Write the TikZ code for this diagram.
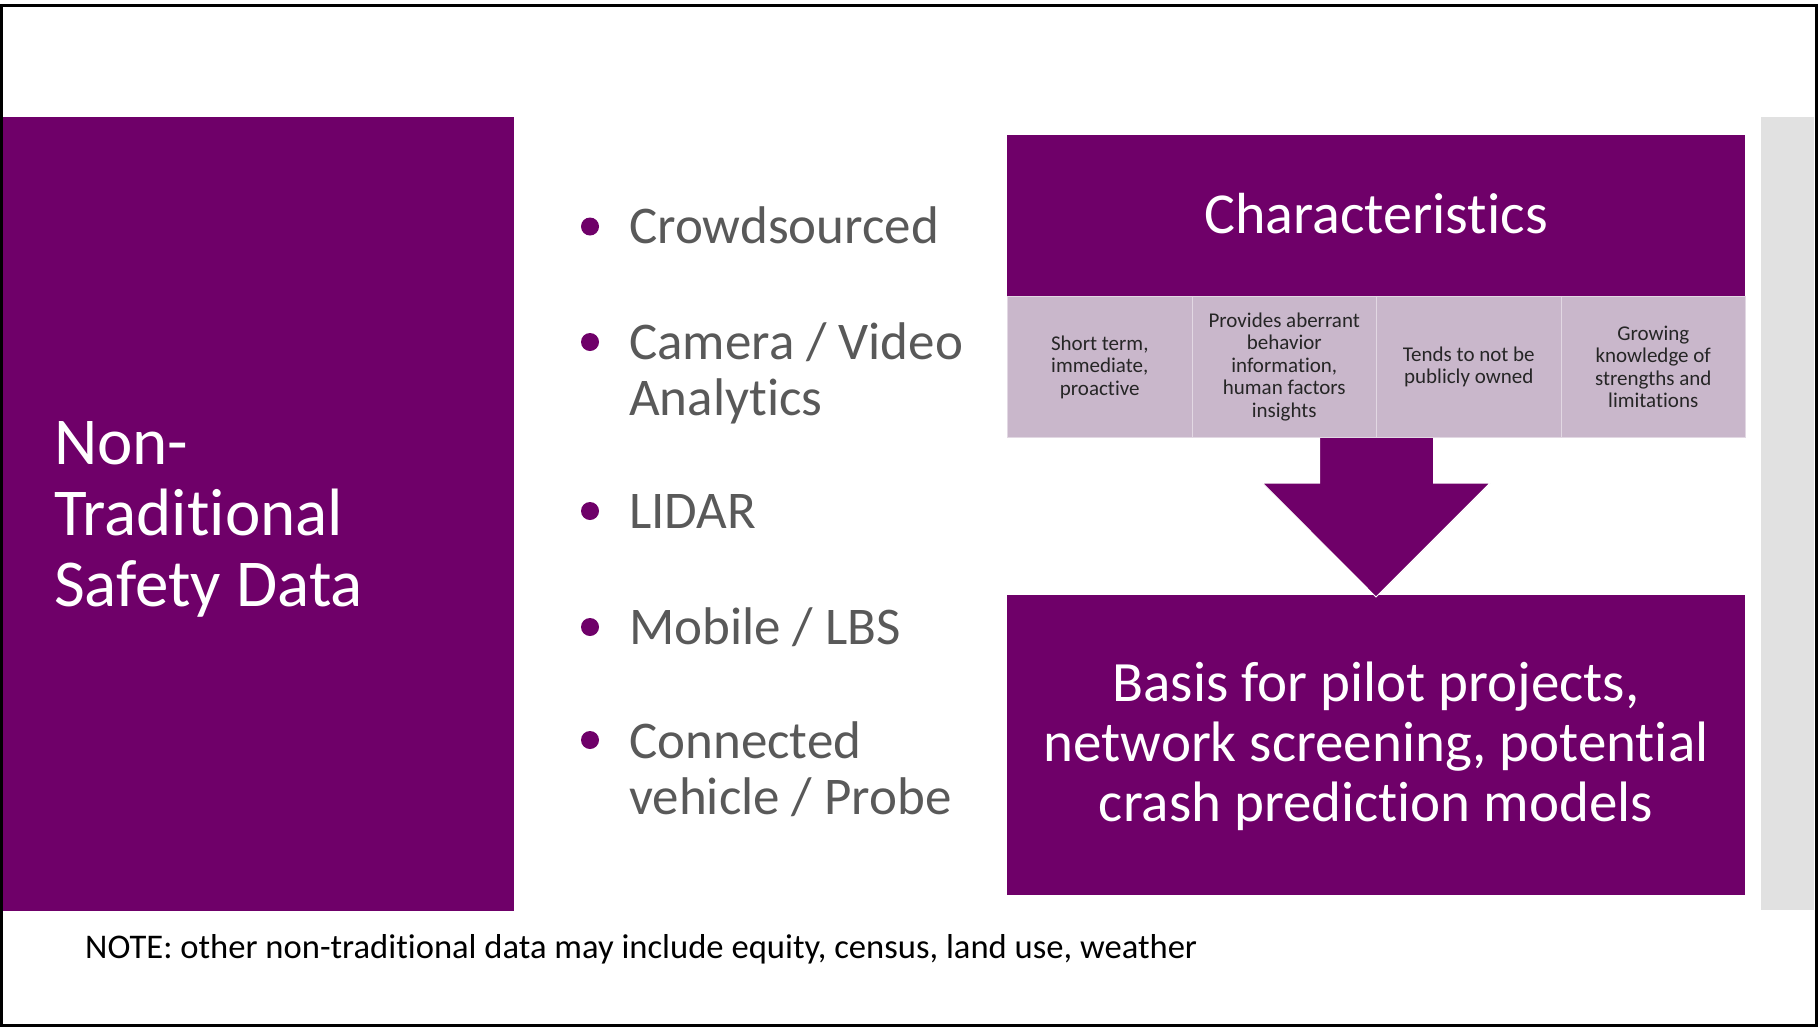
\documentclass[tikz,border=0pt]{standalone}
\usepackage{fontspec}
\setmainfont{Carlito}[Ligatures=NoCommon]
\definecolor{plum}{HTML}{6F0069}
\definecolor{lilac}{HTML}{C9B7CB}
\definecolor{lilacline}{HTML}{E2D8E3}
\definecolor{sidebar}{HTML}{E1E1E1}
\definecolor{bullettext}{HTML}{595959}
\definecolor{celltext}{HTML}{262626}
\tikzset{
  plumbox/.style={fill=plum, draw=none, inner sep=0pt, anchor=north west},
  cellbox/.style={fill=lilac, draw=lilacline, line width=1pt, inner sep=0pt,
    minimum width=184.5pt, minimum height=141pt, anchor=north west},
  celltxt/.style={text=celltext, align=center, inner sep=0pt,
    font=\fontsize{21}{22.5}\selectfont},
  itemtxt/.style={text=bullettext, align=left, inner sep=0pt, anchor=base west,
    font=\fontsize{53}{56}\selectfont},
  itemdot/.style={circle, fill=plum, inner sep=0pt, minimum size=18pt},
  whitetxt/.style={text=white, inner sep=0pt}
}
\begin{document}
\begin{tikzpicture}[x=1pt, y=-1pt]
\useasboundingbox (0,0) rectangle (1818,1029);
\fill[white] (0,0) rectangle (1818,1029);

% side panels
\node[plumbox, minimum width=511pt, minimum height=794pt] (src) at (3,117) {};
\fill[sidebar] (1761,117) rectangle (1814,910);

% title block and outcome block
\node[plumbox, minimum width=738pt, minimum height=161pt] (charbox) at (1007,135) {};
\node[plumbox, minimum width=738pt, minimum height=300pt] (basis) at (1007,595) {};

% block arrow from the characteristics to the outcome
\filldraw[fill=plum, draw=white, line width=1pt]
  (1319.5,437) -- (1433.5,437) -- (1433.5,483) -- (1490,483)
  -- (1376,597) -- (1262.5,483) -- (1319.5,483) -- cycle;

% characteristic cells
\node[cellbox] (c1) at (1007,296) {};
\node[cellbox] (c2) at (1191.5,296) {};
\node[cellbox] (c3) at (1376,296) {};
\node[cellbox] (c4) at (1560.5,296) {};
\node[celltxt] at (c1.center) {Short term,\\immediate,\\proactive};
\node[celltxt] at (c2.center) {Provides aberrant\\behavior\\information,\\human factors\\insights};
\node[celltxt] at (c3.center) {Tends to not be\\publicly owned};
\node[celltxt] at (c4.center) {Growing\\knowledge of\\strengths and\\limitations};

% headings (base anchor of a multi-line node sits on its last line)
\node[whitetxt, anchor=base, font=\fontsize{58}{60}\selectfont] (chartitle) at (1376,233) {Characteristics};
\node[whitetxt, anchor=base, align=center, font=\fontsize{57}{60}\selectfont] (basistxt) at (1376,821)
  {Basis for pilot projects,\\network screening, potential\\crash prediction models};
\node[whitetxt, anchor=base west, align=left, font=\fontsize{67}{71}\selectfont] (srctxt) at (54,606)
  {Non-\\Traditional\\Safety Data};

% data sources list
\node[itemdot] (d1) at (590,226.5) {};
\node[itemdot] (d2) at (590,342) {};
\node[itemdot] (d3) at (590,511) {};
\node[itemdot] (d4) at (590,627) {};
\node[itemdot] (d5) at (590,740) {};
\node[itemtxt] (i1) at (629,243.5) {Crowdsourced};
\node[itemtxt] (i2) at (629,415) {Camera / Video\\Analytics};
\node[itemtxt] (i3) at (629,528) {LIDAR};
\node[itemtxt] (i4) at (629,644) {Mobile / LBS};
\node[itemtxt] (i5) at (629,814.5) {Connected\\vehicle / Probe};

% footnote
\node[anchor=base west, inner sep=0pt, text=black, font=\fontsize{34.6}{40}\selectfont] (note) at (85,958)
  {NOTE: other non-traditional data may include equity, census, land use, weather};

% frame
\draw[black, line width=3pt] (1.5,5) rectangle (1816,1025);
\end{tikzpicture}
\end{document}
